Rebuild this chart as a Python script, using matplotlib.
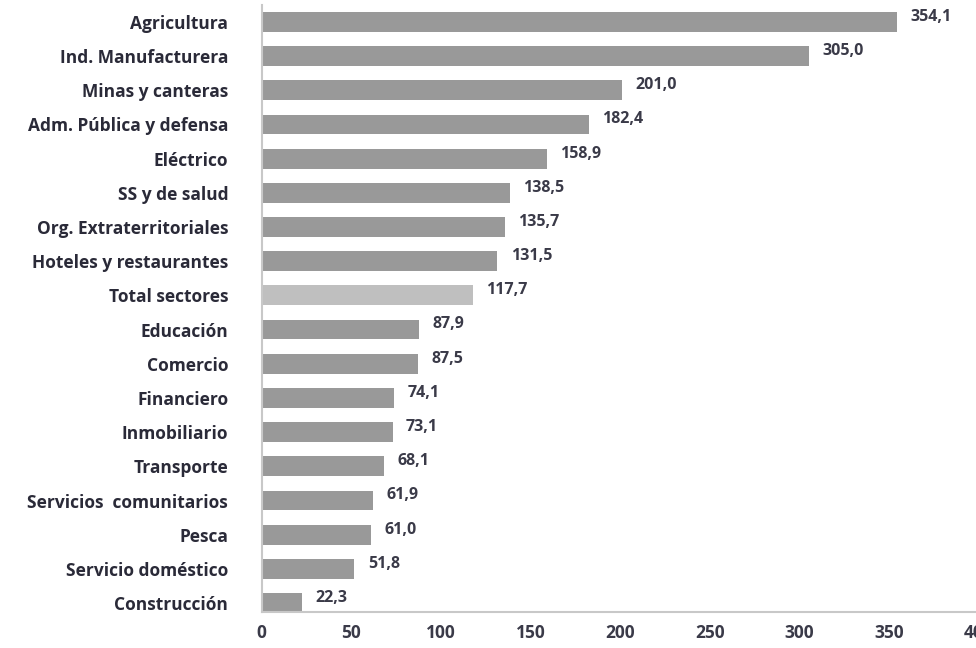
import matplotlib.pyplot as plt

# Datos
sectores = ["Agricultura", "Ind. Manufacturera", "Minas y canteras", "Adm. Pública y defensa",
            "Eléctrico", "SS y de salud", "Org. Extraterritoriales", "Hoteles y restaurantes",
            "Total sectores", "Educación", "Comercio", "Financiero", "Inmobiliario",
            "Transporte", "Servicios  comunitarios", "Pesca", "Servicio doméstico", "Construcción"]
valores = [354.1, 305.0, 201.0, 182.4, 158.9, 138.5, 135.7, 131.5, 117.7,
           87.9, 87.5, 74.1, 73.1, 68.1, 61.9, 61.0, 51.8, 22.3]
ticks_x = [0, 50, 100, 150, 200, 250, 300, 350, 400]

plt.rcParams['font.family'] = ['Open Sans', 'DejaVu Sans']

colores = ['#bfbfbf' if s == "Total sectores" else '#999999' for s in sectores]

fig = plt.figure(figsize=(9.76, 6.48), dpi=100)
ax = fig.add_axes([0.268, 0.0556, 0.735, 0.937])

pos = list(range(len(sectores)))
ax.barh(pos, valores, height=0.58, color=colores)

for p, v in zip(pos, valores):
    ax.text(v + 7.5, p - 0.15, f"{v:.1f}".replace('.', ','), va='center', ha='left',
            fontsize=11.5, fontweight='bold', color='#3a3a48')

ax.set_yticks(pos)
ax.set_yticklabels(sectores, fontsize=12.5, fontweight='bold', color='#2a2a38')
ax.set_xticks(ticks_x)
ax.set_xticklabels([str(t) for t in ticks_x], fontsize=12.5, fontweight='bold', color='#3a3a48')
ax.set_xlim(0, 400)
ax.set_ylim(17.26, -0.5)

ax.tick_params(axis='both', length=0)
ax.tick_params(axis='y', pad=24)
ax.tick_params(axis='x', pad=9)
for s in ['top', 'right']:
    ax.spines[s].set_visible(False)
for s in ['left', 'bottom']:
    ax.spines[s].set_color('#c8c8c8')
    ax.spines[s].set_linewidth(1.5)

fig.savefig('out.png', dpi=100)
